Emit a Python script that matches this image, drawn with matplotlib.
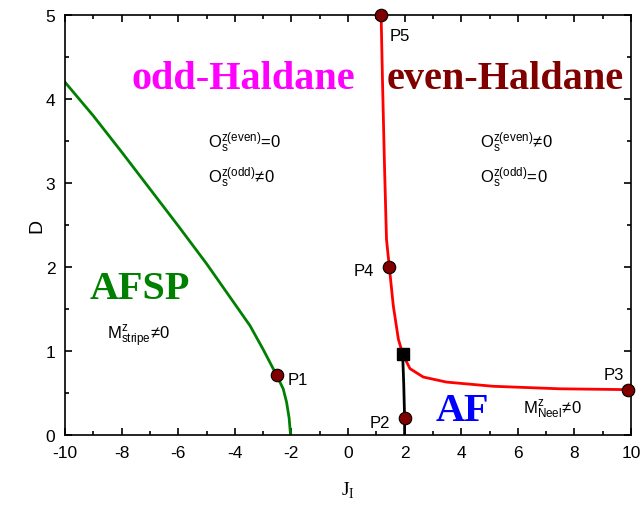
import matplotlib
matplotlib.use("Agg")
import matplotlib.pyplot as plt
from matplotlib.ticker import MultipleLocator

plt.rcParams['font.family'] = ['Liberation Sans', 'DejaVu Sans']
plt.rcParams['mathtext.fontset'] = 'custom'
plt.rcParams['mathtext.rm'] = 'Liberation Sans'
plt.rcParams['mathtext.it'] = 'Liberation Sans'
plt.rcParams['axes.unicode_minus'] = False

# phase boundaries
afsp_J = [-10, -9, -8, -7, -6, -5, -4, -3.46, -3, -2.52, -2.29, -2.17, -2.08, -2.03]
afsp_D = [4.2, 3.8, 3.37, 2.93, 2.49, 2.04, 1.56, 1.3, 1.02, 0.71, 0.55, 0.39, 0.2, 0.0]

haldane_J = [1.17, 1.22, 1.29, 1.36, 1.46, 1.6, 1.78, 1.93,
             2.07, 2.19, 2.66, 3.48, 5.13, 7.49, 9.9]
haldane_D = [5.0, 4.2, 3.2, 2.33, 2.0, 1.54, 1.14, 0.97,
             0.87, 0.79, 0.69, 0.63, 0.58, 0.55, 0.54]

af_J = [1.93, 1.97, 2.0, 2.0]
af_D = [0.97, 0.6, 0.2, 0.0]

# special points
pt_names = ['P1', 'P2', 'P3', 'P4', 'P5']
pt_J = [-2.52, 2.0, 9.9, 1.46, 1.17]
pt_D = [0.71, 0.2, 0.54, 2.0, 5.0]
pt_offsets = [(8, -6), (-25, -6), (-18, 8), (-26, -6), (6, -18)]

crit_J, crit_D = 1.93, 0.97

fig = plt.figure(figsize=(6.42, 5.06), dpi=100)
ax = fig.add_axes([65 / 642, 70 / 506, 566 / 642, 420 / 506])

ax.plot(afsp_J, afsp_D, color='#008000', lw=2)
ax.plot(haldane_J, haldane_D, color='red', lw=2)
ax.plot(af_J, af_D, color='black', lw=2)
ax.plot(pt_J, pt_D, 'o', ms=9, mfc='#800000', mec='black', mew=0.8, clip_on=False, zorder=5)
ax.plot([crit_J], [crit_D], 's', ms=8.5, color='black', zorder=6)

for name, x, y, off in zip(pt_names, pt_J, pt_D, pt_offsets):
    ax.annotate(name, (x, y), xytext=off, textcoords='offset points', fontsize=12)

serif = dict(family='Liberation Serif', fontweight='bold', fontsize=29, ha='center', va='center')
ax.text(-3.7, 4.24, 'odd-Haldane', color='#FF00FF', **serif)
ax.text(5.55, 4.24, 'even-Haldane', color='#800000', **serif)
ax.text(-7.35, 1.74, 'AFSP', color='#008000', **serif)
ax.text(4.03, 0.29, 'AF', color='#0000FF', **serif)

ax.text(-4.95, 3.49, r'$\mathregular{O_s^{z(even)}\!=\!0}$', fontsize=12, va='center')
ax.text(-4.95, 3.07, r'$\mathregular{O_s^{z(odd)}\!\neq\!0}$', fontsize=12, va='center')
ax.text(4.66, 3.49, r'$\mathregular{O_s^{z(even)}\!\neq\!0}$', fontsize=12, va='center')
ax.text(4.66, 3.07, r'$\mathregular{O_s^{z(odd)}\!=\!0}$', fontsize=12, va='center')
ax.text(-8.52, 1.18, r'$\mathregular{M^z_{stripe}\!\neq\!0}$', fontsize=12, va='center')
ax.text(6.18, 0.31, r'$\mathregular{M^z_{Neel}\!\neq\!0}$', fontsize=12, va='center')

ax.set_xlim(-10, 10)
ax.set_ylim(0, 5)
ax.xaxis.set_major_locator(MultipleLocator(2))
ax.xaxis.set_minor_locator(MultipleLocator(1))
ax.yaxis.set_major_locator(MultipleLocator(1))
ax.yaxis.set_minor_locator(MultipleLocator(0.5))
ax.tick_params(which='both', direction='in', top=True, right=True, labelsize=12.5, width=1.2)
ax.tick_params(which='major', length=5, pad=7)
ax.tick_params(which='minor', length=3)
for s in ax.spines.values():
    s.set_linewidth(1.2)

ax.set_xlabel(r'J$_\mathregular{I}$', family='Liberation Serif', fontsize=14, labelpad=14)
ax.set_ylabel('D', fontsize=14, labelpad=0)

fig.savefig('out.png', dpi=100)
